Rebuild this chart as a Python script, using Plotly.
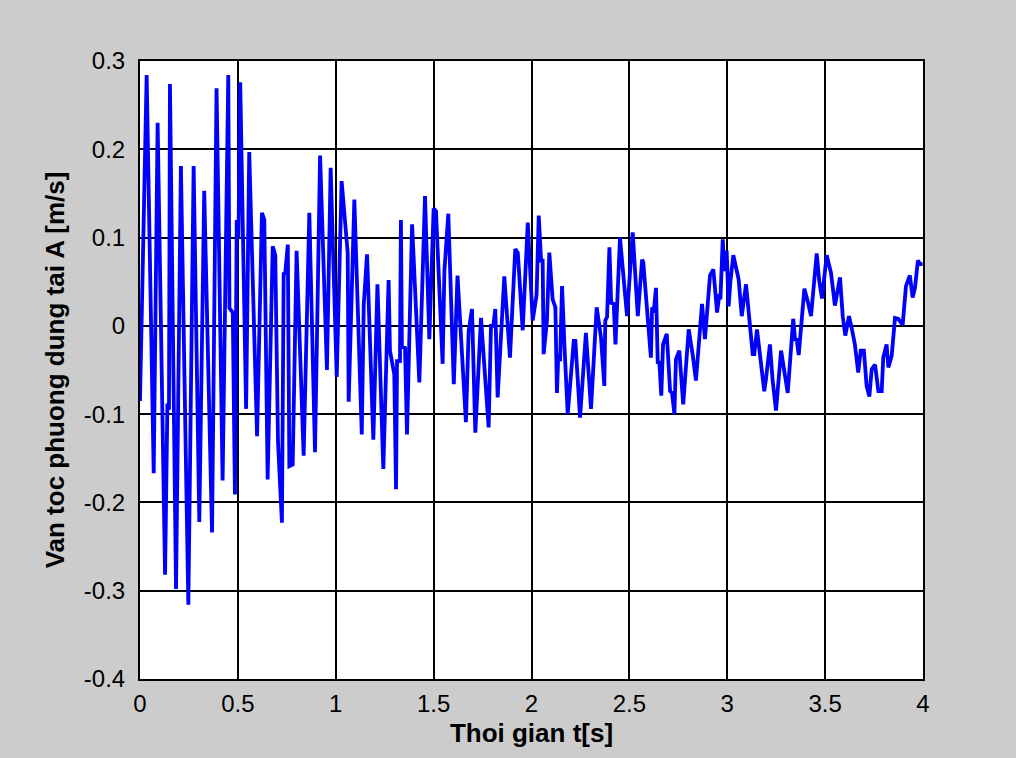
import plotly.graph_objects as go

t = [0.000, 0.034, 0.070, 0.090, 0.128, 0.140, 0.148, 0.153, 0.184, 0.209,
     0.247, 0.274, 0.303, 0.328, 0.368, 0.391, 0.422, 0.451, 0.457, 0.474,
     0.485, 0.494, 0.503, 0.512, 0.542, 0.558, 0.598, 0.623, 0.635, 0.652,
     0.678, 0.691, 0.705, 0.725, 0.734, 0.742, 0.755, 0.763, 0.780, 0.800,
     0.836, 0.865, 0.894, 0.920, 0.955, 0.974, 1.005, 1.030, 1.061, 1.066,
     1.095, 1.133, 1.143, 1.160, 1.192, 1.213, 1.243, 1.270, 1.277, 1.299,
     1.308, 1.313, 1.328, 1.333, 1.338, 1.354, 1.364, 1.390, 1.427, 1.456,
     1.478, 1.500, 1.512, 1.546, 1.555, 1.575, 1.603, 1.622, 1.665, 1.679,
     1.696, 1.713, 1.742, 1.781, 1.793, 1.805, 1.815, 1.827, 1.861, 1.890,
     1.917, 1.930, 1.955, 1.981, 2.006, 2.026, 2.037, 2.049, 2.057, 2.062,
     2.079, 2.091, 2.108, 2.122, 2.130, 2.137, 2.146, 2.156, 2.168, 2.185,
     2.216, 2.224, 2.248, 2.278, 2.304, 2.333, 2.355, 2.372, 2.377, 2.386,
     2.398, 2.407, 2.420, 2.429, 2.452, 2.488, 2.517, 2.543, 2.565, 2.571,
     2.610, 2.616, 2.624, 2.636, 2.645, 2.653, 2.663, 2.672, 2.691, 2.708,
     2.718, 2.730, 2.738, 2.755, 2.775, 2.803, 2.823, 2.840, 2.871, 2.886,
     2.912, 2.929, 2.948, 2.960, 2.965, 2.977, 2.985, 2.997, 3.007, 3.016,
     3.031, 3.058, 3.074, 3.096, 3.130, 3.138, 3.152, 3.189, 3.198, 3.218,
     3.232, 3.249, 3.275, 3.309, 3.321, 3.337, 3.347, 3.354, 3.365, 3.394,
     3.411, 3.428, 3.457, 3.470, 3.484, 3.508, 3.530, 3.550, 3.576, 3.590,
     3.603, 3.622, 3.637, 3.652, 3.669, 3.682, 3.698, 3.712, 3.726, 3.738,
     3.755, 3.772, 3.789, 3.797, 3.814, 3.823, 3.840, 3.857, 3.874, 3.896,
     3.913, 3.933, 3.947, 3.959, 3.974, 3.985, 3.998]

v = [-0.085, 0.284, -0.167, 0.230, -0.282, -0.088, -0.095, 0.274, -0.298, 0.181,
     -0.316, 0.181, -0.222, 0.153, -0.234, 0.269, -0.175, 0.284, 0.020, 0.015,
     -0.191, 0.120, 0.100, 0.276, -0.094, 0.197, -0.125, 0.128, 0.120, -0.174,
     0.090, 0.080, -0.131, -0.223, 0.059, 0.060, 0.092, -0.159, -0.157, 0.085,
     -0.147, 0.128, -0.143, 0.193, -0.050, 0.179, -0.058, 0.164, 0.083, -0.086,
     0.143, -0.123, 0.024, 0.081, -0.129, 0.047, -0.162, 0.052, -0.028, -0.055,
     -0.185, -0.040, -0.040, 0.120, -0.023, -0.025, -0.123, 0.115, -0.064, 0.147,
     -0.015, 0.133, 0.130, -0.043, 0.062, 0.127, -0.066, 0.057, -0.109, -0.006,
     0.019, -0.121, 0.009, -0.115, 0.000, 0.000, 0.019, -0.081, 0.056, -0.036,
     0.087, 0.083, -0.005, 0.117, 0.006, 0.035, 0.125, 0.074, 0.074, -0.032,
     0.006, 0.083, 0.030, 0.021, -0.076, -0.032, -0.040, 0.045, -0.021, -0.100,
     -0.017, -0.017, -0.104, -0.008, -0.094, 0.021, -0.013, -0.068, 0.006, 0.010,
     0.089, 0.026, 0.025, -0.021, 0.100, 0.011, 0.106, 0.011, 0.075, 0.072,
     -0.036, 0.021, 0.015, 0.043, -0.043, -0.040, -0.079, -0.021, -0.009, -0.074,
     -0.076, -0.100, -0.038, -0.028, -0.089, -0.004, -0.032, -0.062, 0.025, -0.015,
     0.057, 0.064, 0.015, 0.036, 0.030, 0.098, 0.062, 0.085, 0.022, 0.050,
     0.080, 0.053, 0.011, 0.047, -0.032, -0.032, -0.004, -0.074, -0.060, -0.021,
     -0.062, -0.096, -0.028, -0.076, -0.040, 0.008, -0.017, -0.014, -0.033, 0.042,
     0.028, 0.011, 0.082, 0.051, 0.031, 0.080, 0.060, 0.023, 0.055, 0.011,
     -0.011, 0.011, -0.004, -0.021, -0.053, -0.028, -0.028, -0.068, -0.080, -0.049,
     -0.044, -0.074, -0.074, -0.036, -0.021, -0.047, -0.034, 0.009, 0.008, 0.001,
     0.045, 0.057, 0.032, 0.043, 0.074, 0.070, 0.070]

x_ticks = [0, 0.5, 1, 1.5, 2, 2.5, 3, 3.5, 4]
x_tick_labels = ["0", "0.5", "1", "1.5", "2", "2.5", "3", "3.5", "4"]
y_ticks = [-0.4, -0.3, -0.2, -0.1, 0, 0.1, 0.2, 0.3]
y_tick_labels = ["-0.4", "-0.3", "-0.2", "-0.1", "0", "0.1", "0.2", "0.3"]

x_title = "Thoi gian t[s]"
y_title = "Van toc phuong dung tai A [m/s]"

font_family = "Liberation Sans, Arial, sans-serif"

fig = go.Figure()
fig.add_trace(go.Scatter(x=t, y=v, mode="lines",
                         line=dict(color="#0000ff", width=3.8),
                         showlegend=False, hoverinfo="skip"))

axis_common = dict(
    showline=True, mirror=True, linecolor="black", linewidth=2,
    showgrid=True, gridcolor="black", gridwidth=1.6,
    zeroline=False, ticks="outside", tickcolor="rgba(0,0,0,0)",
    tickfont=dict(family=font_family, size=24, color="black"),
)

fig.update_xaxes(range=[0, 4], tickvals=x_ticks, ticktext=x_tick_labels, ticklen=2,
                 title=dict(text=x_title, standoff=8,
                            font=dict(family=font_family, size=26, color="black",
                                      weight="bold")),
                 **axis_common)
fig.update_yaxes(range=[-0.4, 0.3], tickvals=y_ticks, ticktext=y_tick_labels, ticklen=8,
                 title=dict(text=y_title, standoff=12,
                            font=dict(family=font_family, size=26, color="black",
                                      weight="bold")),
                 **axis_common)

fig.update_layout(
    width=1016, height=758,
    paper_bgcolor="#cccccc", plot_bgcolor="white",
    margin=dict(l=140, r=93, t=61, b=79),
    font=dict(family=font_family),
)

fig.write_html("out.html")
